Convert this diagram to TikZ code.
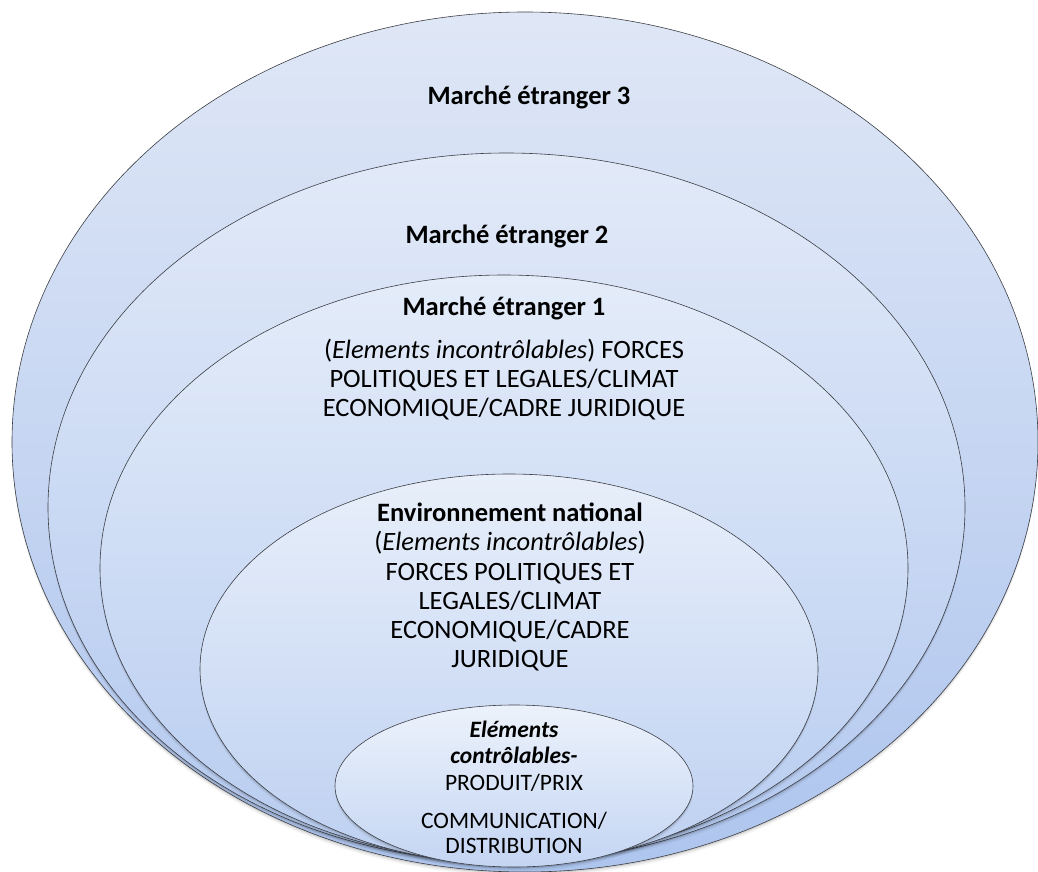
\documentclass[tikz,border=0pt]{standalone}
\usepackage{fontspec}
\setmainfont{Carlito}
\definecolor{ringline}{HTML}{3C3F46}
\definecolor{tA}{HTML}{DFE7F6}\definecolor{bA}{HTML}{AEC5EE}
\definecolor{tB}{HTML}{E2EAF8}\definecolor{bB}{HTML}{B2C8EF}
\definecolor{tC}{HTML}{E4ECF9}\definecolor{bC}{HTML}{B7CCF0}
\definecolor{tD}{HTML}{E8EFFA}\definecolor{bD}{HTML}{BDD0F1}
\definecolor{tE}{HTML}{ECF2FB}\definecolor{bE}{HTML}{C4D5F3}
\begin{document}
\begin{tikzpicture}[x=1pt,y=-1pt,
  ring/.style={draw=ringline, line width=0.6pt},
  shade1/.style={black, opacity=0.10, yshift=-1.5pt},
  shade2/.style={black, opacity=0.06, yshift=-3pt},
  shade3/.style={black, opacity=0.035, yshift=-4.5pt},
  big/.style={font=\fontsize{26.5}{30}\selectfont, anchor=base, inner sep=0pt},
  bigb/.style={big, font=\fontsize{26.5}{30}\selectfont\bfseries},
  small/.style={font=\fontsize{23.5}{27}\selectfont, anchor=base, inner sep=0pt},
  smallbi/.style={font=\fontsize{23.5}{27}\selectfont\bfseries\itshape, anchor=base, inner sep=0pt}]
\useasboundingbox (0,0) rectangle (1038,872);
% ellipse macro: center, rx, ry, top colour, bottom colour
\newcommand{\ringshape}[6]{%
  \fill[shade1] (#1,#2) ellipse [x radius=#3, y radius=#4];
  \fill[shade2] (#1,#2) ellipse [x radius=#3, y radius=#4];
  \fill[shade3] (#1,#2) ellipse [x radius=#3, y radius=#4];
  \shade[ring, top color=#5, bottom color=#6] (#1,#2) ellipse [x radius=#3, y radius=#4];}
\ringshape{525}{442}{513}{430}{tA}{bA}
\ringshape{506.5}{507.5}{458.5}{354.5}{tB}{bB}
\ringshape{504}{568}{404}{293}{tC}{bC}
\ringshape{509}{669}{309}{195}{tD}{bD}
\ringshape{514}{786}{179}{81}{tE}{bE}
% texts
\node[bigb] (m3) at (529,104.5) {Marché étranger 3};
\node[bigb] (m2) at (507,243) {Marché étranger 2};
\node[bigb] (m1) at (504,315) {Marché étranger 1};
\node[big] (m1a) at (504,358) {(\textit{Elements incontrôlables}) FORCES};
\node[big] (m1b) at (504,387) {POLITIQUES ET LEGALES/CLIMAT};
\node[big] (m1c) at (504,416) {ECONOMIQUE/CADRE JURIDIQUE};
\node[bigb] (n0) at (510,521) {Environnement national};
\node[big] (n1) at (510,550) {(\textit{Elements incontrôlables})};
\node[big] (n2) at (510,580) {FORCES POLITIQUES ET};
\node[big] (n3) at (510,609) {LEGALES/CLIMAT};
\node[big] (n4) at (510,638) {ECONOMIQUE/CADRE};
\node[big] (n5) at (510,667) {JURIDIQUE};
\node[smallbi] (c1) at (514,737) {Eléments};
\node[smallbi] (c2) at (514,763) {contrôlables-};
\node[small] (c3) at (514,790) {PRODUIT/PRIX};
\node[small] (c4) at (514,828) {COMMUNICATION/};
\node[small] (c5) at (514,853) {DISTRIBUTION};
\end{tikzpicture}
\end{document}
